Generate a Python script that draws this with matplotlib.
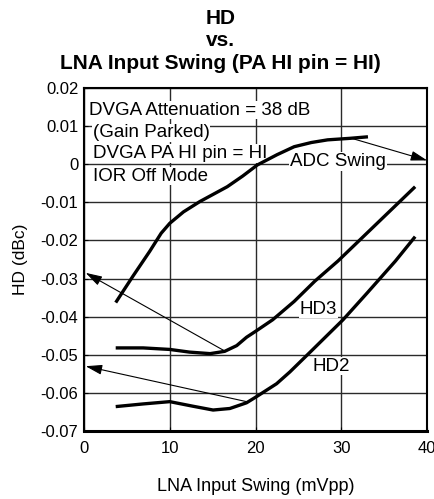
import matplotlib
matplotlib.use("Agg")
import matplotlib.pyplot as plt

plt.rcParams['font.family'] = ['Liberation Sans', 'DejaVu Sans']

# curves (x: LNA input swing mVpp, y: HD dBc)
adc_x = [3.7, 5.7, 7.65, 9.0, 10.0, 11.6, 13.5, 16.7, 18.5, 20.2, 22.5, 24.5, 26.5, 28.4, 31.0, 33.1]
adc_y = [-0.0363, -0.0294, -0.0229, -0.0181, -0.0155, -0.0125, -0.0098, -0.0059,
         -0.0031, -0.0002, 0.0025, 0.0046, 0.0057, 0.0064, 0.0068, 0.0072]

hd3_x = [3.7, 6.9, 10.0, 12.3, 14.7, 16.4, 17.8, 18.95, 20.1, 22.0, 24.5, 26.9, 29.6,
         32.0, 35.0, 38.6]
hd3_y = [-0.0482, -0.0482, -0.0486, -0.0493, -0.0497, -0.0491, -0.0476, -0.0454,
         -0.0437, -0.0408, -0.0360, -0.0307, -0.0254, -0.0202, -0.0137, -0.0059]

hd2_x = [3.7, 6.9, 10.0, 12.7, 15.05, 17.0, 18.95, 20.1, 22.45, 24.0, 26.5, 30.2, 33.0,
         36.3, 38.6]
hd2_y = [-0.0636, -0.0629, -0.0623, -0.0635, -0.0645, -0.0641, -0.0626, -0.0610,
         -0.0576, -0.0545, -0.0490, -0.0408, -0.0338, -0.0254, -0.0190]

x_ticks = [0, 10, 20, 30, 40]
y_ticks = [0.02, 0.01, 0, -0.01, -0.02, -0.03, -0.04, -0.05, -0.06, -0.07]
y_labels = ["0.02", "0.01", "0", "-0.01", "-0.02", "-0.03", "-0.04", "-0.05", "-0.06", "-0.07"]

notes = ["DVGA Attenuation = 38 dB", "(Gain Parked)", "DVGA PA HI pin = HI", "IOR Off Mode"]
notes_x = [0.6, 1.0, 1.0, 1.0]
notes_y = [0.0142, 0.0082, 0.0028, -0.0031]

fig = plt.figure(figsize=(4.35, 4.99), dpi=100)
ax = fig.add_axes([0.193, 0.1363, 0.789, 0.6873])

ax.set_xlim(0, 40)
ax.set_ylim(-0.07, 0.02)
ax.set_xticks(x_ticks)
ax.set_yticks(y_ticks)
ax.set_yticklabels(y_labels)
ax.tick_params(direction='in', length=3, labelsize=12)
ax.tick_params(axis='x', pad=7)
ax.tick_params(axis='y', pad=4)
ax.grid(True, color='#2a2a2a', lw=1)
ax.set_axisbelow(True)
for s in ax.spines.values():
    s.set_linewidth(1.5)
ax.spines['bottom'].set_linewidth(2.2)

for xs, ys in ((adc_x, adc_y), (hd3_x, hd3_y), (hd2_x, hd2_y)):
    ax.plot(xs, ys, color='black', lw=2.4, solid_capstyle='butt', zorder=3)

arrow = dict(arrowstyle='-|>,head_length=1.0,head_width=0.3', color='black', lw=0.8,
             shrinkA=0, shrinkB=0)
ax.annotate("", xy=(40, 0.001), xytext=(31.2, 0.0068), arrowprops=arrow, zorder=4)
ax.annotate("", xy=(0.2, -0.0285), xytext=(16.4, -0.0490), arrowprops=arrow, zorder=4)
ax.annotate("", xy=(0.2, -0.053), xytext=(18.95, -0.0623), arrowprops=arrow, zorder=4)

box = dict(facecolor='white', edgecolor='none', pad=0.5)
for t, tx, ty in zip(notes, notes_x, notes_y):
    ax.text(tx, ty, t, fontsize=13.5, ha='left', va='center', bbox=box, zorder=2)
ax.text(29.6, 0.0007, "ADC Swing", fontsize=13.5, ha='center', va='center', bbox=box, zorder=2)
ax.text(27.3, -0.038, "HD3", fontsize=13.5, ha='center', va='center', bbox=box, zorder=2)
ax.text(28.8, -0.053, "HD2", fontsize=13.5, ha='center', va='center', bbox=box, zorder=2)

fig.text(0.507, 0.982, "HD\nvs.\nLNA Input Swing (PA HI pin = HI)", ha='center', va='top',
         fontsize=15, fontweight='bold', linespacing=1.22)
ax.set_xlabel("LNA Input Swing (mVpp)", fontsize=13, labelpad=16)
ax.set_ylabel("HD (dBc)", fontsize=12.5, labelpad=9)

fig.savefig("out.png", dpi=100)
